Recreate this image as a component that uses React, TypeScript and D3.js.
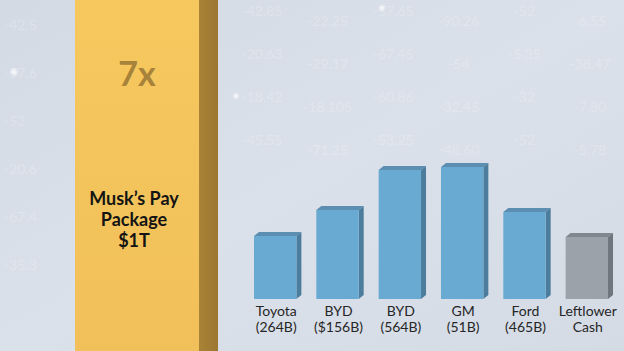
import React from "react";
import * as d3 from "d3";

const W = 624;
const H = 351;

// Company bars
const categories = ["Toyota", "BYD", "BYD", "GM", "Ford", "Leftlower"];
const subLabels = ["(264B)", "($156B)", "(564B)", "(51B)", "(465B)", "Cash"];
const barValues = [63, 89, 129, 132, 87, 62]; // relative heights as drawn
const barKinds = ["blue", "blue", "blue", "blue", "blue", "gray"];

// Musk bar
const muskValue = 340;
const muskMultiplier = "7x";
const muskLabel = ["Musk\u2019s Pay", "Package", "$1T"];

// Decorative background ticker numbers
const bgNumbers = [
  "-42.85", "-22.25", "-57.65", "-90.26", "-52", "-6.55",
  "-20.63", "-29.17", "-67.45", "-54", "-5.35", "-38.47",
  "-18.42", "-18.105", "-60.86", "-32.45", "-32", "-7.80",
  "-45.55", "-71.25", "-53.25", "-48.60", "-52", "-5.78",
];
const bgLeft = ["-42.5", "-57.6", "-52", "-20.6", "-67.4", "-35.3"];

const PALETTE: Record<string, { front: string; side: string; top: string }> = {
  blue: { front: "#69aad3", side: "#4d7d9d", top: "#5b8eb1" },
  gray: { front: "#9ca2a9", side: "#6f767d", top: "#80878e" },
};

export default function App() {
  const baseline = 299;
  const y = d3.scaleLinear().domain([0, 100]).range([baseline, baseline - 100]);
  const x = d3
    .scaleBand<number>()
    .domain(d3.range(categories.length))
    .range([254, 608])
    .paddingInner(0.32)
    .paddingOuter(0);
  const dx = 5;
  const dy = 4;
  const bw = x.bandwidth();

  const gx0 = 75;
  const gw = 124;
  const gDepth = 19;

  const cols = 6;
  const bgX = d3.scaleLinear().domain([0, cols - 1]).range([262, 590]);
  const bgY = d3.scaleLinear().domain([0, 3]).range([16, 145]);

  return (
    <svg width={W} height={H} style={{ position: "absolute", left: 0, top: 0 }}>
      <defs>
        <linearGradient id="bg" x1="0" y1="0" x2="1" y2="1">
          <stop offset="0" stopColor="#d3dae4" />
          <stop offset="0.5" stopColor="#dbe1ea" />
          <stop offset="1" stopColor="#d4dbe5" />
        </linearGradient>
        <linearGradient id="gold" x1="0" y1="0" x2="0" y2="1">
          <stop offset="0" stopColor="#f6c95e" />
          <stop offset="1" stopColor="#f2c05a" />
        </linearGradient>
        <linearGradient id="goldSide" x1="0" y1="0" x2="1" y2="0">
          <stop offset="0" stopColor="#a98336" />
          <stop offset="1" stopColor="#9c7630" />
        </linearGradient>
        <radialGradient id="bokeh">
          <stop offset="0" stopColor="#ffffff" stopOpacity="0.9" />
          <stop offset="1" stopColor="#ffffff" stopOpacity="0" />
        </radialGradient>
      </defs>
      <rect x={0} y={0} width={W} height={H} fill="url(#bg)" />

      {/* faint background numbers */}
      <g fontFamily="Lato, sans-serif" fontSize={14} fill="#ffffff" opacity={0.2}>
        {bgNumbers.map((t, i) => (
          <text
            key={i}
            x={bgX(i % cols)}
            y={bgY(Math.floor(i / cols)) + ((i % cols) % 2 === 0 ? 0 : 10)}
            textAnchor="middle"
          >
            {t}
          </text>
        ))}
        {bgLeft.map((t, i) => (
          <text key={"l" + i} x={4} y={30 + i * 48}>
            {t}
          </text>
        ))}
      </g>
      <circle cx={14} cy={72} r={5} fill="url(#bokeh)" />
      <circle cx={236} cy={96} r={4} fill="url(#bokeh)" />
      <circle cx={382} cy={8} r={4} fill="url(#bokeh)" />

      {/* Musk gold bar */}
      <g>
        <rect x={gx0} y={y(muskValue)} width={gw} height={H - y(muskValue)} fill="url(#gold)" />
        <rect
          x={gx0 + gw}
          y={y(muskValue)}
          width={gDepth}
          height={H - y(muskValue)}
          fill="url(#goldSide)"
        />
        <text
          x={137}
          y={86}
          textAnchor="middle"
          fontFamily="Lato, sans-serif"
          fontWeight={700}
          fontSize={34}
          fill="#a7823a"
        >
          {muskMultiplier}
        </text>
        {muskLabel.map((t, i) => (
          <text
            key={i}
            x={134}
            y={205 + i * 21}
            textAnchor="middle"
            fontFamily="Lato, sans-serif"
            fontWeight={700}
            fontSize={18}
            fill="#141414"
          >
            {t}
          </text>
        ))}
      </g>

      {/* company bars */}
      {barValues.map((v, i) => {
        const c = PALETTE[barKinds[i]];
        const x0 = x(i) as number;
        const yt = y(v);
        const x1 = x0 + bw;
        return (
          <g key={i}>
            <polygon
              points={`${x0},${yt} ${x0 + dx},${yt - dy} ${x1 + dx},${yt - dy} ${x1},${yt}`}
              fill={c.top}
            />
            <polygon
              points={`${x1},${yt} ${x1 + dx},${yt - dy} ${x1 + dx},${baseline - dy} ${x1},${baseline}`}
              fill={c.side}
            />
            <rect x={x0} y={yt} width={bw} height={baseline - yt} fill={c.front} />
            <text
              x={x0 + bw / 2 + 1}
              y={316}
              textAnchor="middle"
              fontFamily="Lato, sans-serif"
              fontSize={14}
              fill="#262626"
            >
              {categories[i]}
            </text>
            <text
              x={x0 + bw / 2 + 1}
              y={332}
              textAnchor="middle"
              fontFamily="Lato, sans-serif"
              fontSize={14}
              fill="#262626"
            >
              {subLabels[i]}
            </text>
          </g>
        );
      })}
    </svg>
  );
}
